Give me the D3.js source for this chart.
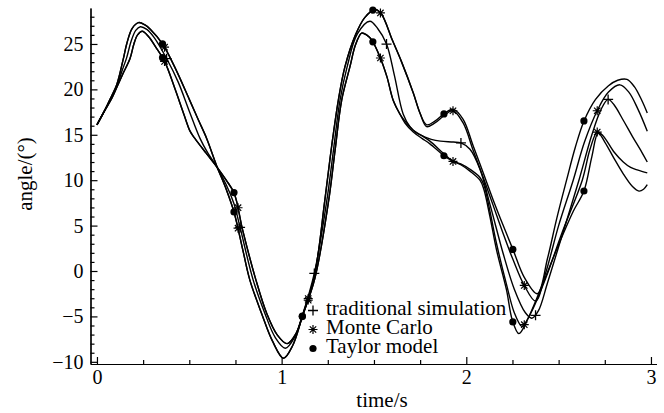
<!DOCTYPE html>
<html lang="en">
<head>
<meta charset="UTF-8" />
<title>angle vs time</title>
<script src="https://d3js.org/d3.v7.min.js"></script>
<style>
  body { margin: 0; background: #fff; }
  text { font-family: "Liberation Serif", "Times New Roman", serif; }
</style>
</head>
<body>
<svg id="chart" width="664" height="413"></svg>
<script>
// [time (s), angle (deg)]
var upperEarly = [[0,16.1],[0.04,17.6],[0.08,19.3],[0.107,20.5],[0.142,23.3],[0.161,25.0],[0.19,26.7],[0.225,27.35],[0.26,27.1],[0.29,26.6],[0.355,25.0],[0.42,22.5],[0.5,18.9],[0.55,16.6],[0.594,14.6],[0.648,11.6],[0.70,9.0],[0.742,6.5],[0.79,2.3],[0.828,-1.0],[0.892,-4.7],[0.95,-7.7],[1.01,-9.6],[1.06,-8.2],[1.112,-5.0],[1.177,-0.6],[1.234,7.8],[1.27,13.6],[1.307,18.8],[1.343,22.5],[1.4,26.0],[1.45,27.9],[1.505,28.8],[1.54,28.3],[1.6,25.4],[1.65,23.0],[1.713,19.6],[1.749,17.4]];
var lowerEarly = [[0,16.1],[0.04,17.6],[0.08,19.0],[0.107,20.2],[0.14,21.7],[0.179,23.4],[0.2,25.0],[0.22,26.0],[0.245,26.4],[0.28,25.8],[0.32,24.6],[0.368,23.0],[0.42,20.2],[0.47,17.3],[0.504,15.4],[0.53,14.6],[0.59,13.0],[0.648,11.5],[0.70,10.0],[0.743,8.56],[0.789,4.5],[0.861,-1.0],[0.919,-4.66],[0.975,-7.0],[1.03,-8.0],[1.08,-6.8],[1.112,-5.0],[1.18,-0.8],[1.255,7.8],[1.29,13.4],[1.325,18.8],[1.37,22.5],[1.40,24.9],[1.433,26.2],[1.46,26.0],[1.489,25.4],[1.532,23.6],[1.57,21.4],[1.604,18.8],[1.64,17.3]];

var taylorUpper = upperEarly.concat([[1.785,16.1],[1.83,16.5],[1.879,17.3],[1.93,17.8],[1.983,16.7],[2.037,13.8],[2.092,10.8],[2.146,7.8],[2.2,5.0],[2.254,2.3],[2.314,-0.7],[2.385,-2.5],[2.44,1.4],[2.49,5.8],[2.543,10.0],[2.59,13.6],[2.637,16.5],[2.7,18.9],[2.77,20.4],[2.82,21.0],[2.87,21.1],[2.91,20.3],[2.95,18.8],[2.98,17.4]]);
var monteUpper = upperEarly.concat([[1.785,15.9],[1.83,16.3],[1.879,17.1],[1.928,17.65],[1.983,16.3],[2.037,13.3],[2.092,10.3],[2.146,7.2],[2.2,4.1],[2.254,1.2],[2.314,-1.6],[2.375,-3.3],[2.43,-0.2],[2.5,5.0],[2.579,10.0],[2.64,14.2],[2.709,17.65],[2.77,19.7],[2.832,20.5],[2.88,19.7],[2.93,17.8],[2.98,15.4]]);
var traditional = [[0,16.1],[0.04,17.6],[0.08,19.2],[0.107,20.3],[0.135,22.0],[0.161,23.5],[0.185,25.3],[0.21,26.5],[0.235,26.9],[0.27,26.6],[0.31,25.7],[0.377,23.4],[0.44,20.8],[0.5,17.6],[0.558,14.6],[0.6,13.0],[0.648,11.5],[0.70,9.5],[0.742,7.4],[0.775,4.8],[0.846,-1.0],[0.91,-4.7],[0.965,-7.3],[1.02,-8.5],[1.07,-7.3],[1.112,-4.9],[1.177,-0.26],[1.245,7.8],[1.28,13.2],[1.316,18.8],[1.355,22.5],[1.41,26.1],[1.478,27.5],[1.52,26.7],[1.568,25.0],[1.61,21.6],[1.658,17.3],[1.695,15.9],[1.731,15.2],[1.77,14.8],[1.81,14.5],[1.86,14.3],[1.93,14.2],[1.971,14.1],[2.02,13.4],[2.074,11.2],[2.13,7.2],[2.2,1.9],[2.26,-2.0],[2.32,-4.6],[2.355,-5.2],[2.39,-4.4],[2.44,-1.3],[2.52,4.0],[2.61,10.0],[2.68,15.0],[2.73,17.8],[2.768,18.9],[2.8,18.3],[2.85,16.6],[2.9,14.8],[2.95,13.1],[2.98,12.0]];
var monteLower = lowerEarly.concat([[1.668,16.5],[1.713,15.5],[1.76,14.9],[1.803,14.3],[1.879,12.9],[1.926,12.1],[1.97,11.8],[2.02,11.2],[2.074,10.3],[2.095,9.5],[2.128,6.6],[2.164,3.0],[2.218,-1.5],[2.26,-4.6],[2.30,-6.1],[2.314,-5.9],[2.36,-4.2],[2.43,-0.8],[2.52,4.3],[2.628,10.0],[2.67,13.4],[2.709,15.3],[2.74,14.9],[2.8,13.1],[2.85,12.0],[2.89,11.4],[2.93,11.1],[2.98,10.8]]);
var taylorLower = lowerEarly.concat([[1.668,16.3],[1.713,15.3],[1.76,14.6],[1.803,14.0],[1.879,12.7],[1.926,12.1],[1.97,11.7],[2.02,11.0],[2.074,10.0],[2.095,9.0],[2.128,6.0],[2.164,2.3],[2.218,-2.1],[2.249,-5.4],[2.285,-6.9],[2.33,-5.4],[2.4,-2.1],[2.5,2.9],[2.58,6.6],[2.637,8.8],[2.68,12.6],[2.714,15.2],[2.75,14.2],[2.8,12.4],[2.85,10.7],[2.9,9.3],[2.935,8.8],[2.96,9.0],[2.98,9.5]]);

// times where the markers sit on each curve
var taylorMarkT = [0.355, 0.742, 1.112, 1.494, 1.879, 2.252, 2.637];
var monteMarkT = [0.366, 0.764, 1.144, 1.535, 1.928, 2.314, 2.709];
var tradMarkT = [0.377, 0.775, 1.177, 1.568, 1.971, 2.375, 2.768];

var xTicks = [0, 1, 2, 3];
var yTicks = [-10, -5, 0, 5, 10, 15, 20, 25];
var legendNames = ["traditional simulation", "Monte Carlo", "Taylor model"];

var svg = d3.select("#chart");
var font = "'Liberation Serif', 'Times New Roman', serif";

var x = d3.scaleLinear().domain([-0.035, 3.03]).range([90.5, 656.5]);
var y = d3.scaleLinear().domain([-10.24, 28.96]).range([364, 8]);

// axes, ticks pointing inwards
function styleAxis(g) {
  g.attr("font-family", font).attr("font-size", 20);
  g.selectAll("path, line").attr("stroke", "#000").attr("stroke-width", 1.2);
}

svg.append("g").attr("transform", "translate(0,364)")
  .call(d3.axisBottom(x).tickValues(d3.range(0, 3.01, 0.25).filter(function(d){ return d % 1 != 0 }))
    .tickSizeInner(-4).tickSizeOuter(0).tickFormat(""))
  .call(styleAxis);
svg.append("g").attr("transform", "translate(0,364)")
  .call(d3.axisBottom(x).tickValues(xTicks).tickSizeInner(-7).tickSizeOuter(0).tickPadding(6).tickFormat(d3.format("d")))
  .call(styleAxis);

svg.append("g").attr("transform", "translate(90.5,0)")
  .call(d3.axisLeft(y).tickValues(d3.range(-10, 29).filter(function(d){ return d % 5 != 0 }))
    .tickSizeInner(-4).tickSizeOuter(0).tickFormat(""))
  .call(styleAxis);
svg.append("g").attr("transform", "translate(90.5,0)")
  .call(d3.axisLeft(y).tickValues(yTicks).tickSizeInner(-7).tickSizeOuter(0).tickPadding(7))
  .call(styleAxis);

svg.append("text")
  .attr("x", 382).attr("y", 407)
  .attr("text-anchor", "middle").attr("font-size", 21)
  .text("time/s");

svg.append("text")
  .attr("transform", "translate(32,174) rotate(-90)")
  .attr("text-anchor", "middle").attr("font-size", 21)
  .text("angle/(°)");

// curves
var line = d3.line()
  .x(function(d){ return x(d[0]) })
  .y(function(d){ return y(d[1]) })
  .curve(d3.curveCatmullRom.alpha(0.5));

var series = [
  {data: taylorUpper, kind: "dot", times: taylorMarkT},
  {data: monteUpper, kind: "star", times: monteMarkT},
  {data: traditional, kind: "plus", times: tradMarkT},
  {data: monteLower, kind: "star", times: monteMarkT},
  {data: taylorLower, kind: "dot", times: taylorMarkT}
];

function drawMarker(g, kind, cx, cy) {
  if (kind == "dot") {
    g.append("circle").attr("cx", cx).attr("cy", cy).attr("r", 3.6).attr("fill", "#000");
  } else if (kind == "plus") {
    g.append("path").attr("d", "M" + (cx - 5) + "," + cy + "h10M" + cx + "," + (cy - 5) + "v10")
      .attr("stroke", "#000").attr("stroke-width", 1.3).attr("fill", "none");
  } else {
    var d = "";
    [0, 45, 90, 135].forEach(function(a){
      var r = 4.5, dx = r * Math.cos(a * Math.PI / 180), dy = r * Math.sin(a * Math.PI / 180);
      d += "M" + (cx - dx) + "," + (cy - dy) + "L" + (cx + dx) + "," + (cy + dy);
    });
    g.append("path").attr("d", d).attr("stroke", "#000").attr("stroke-width", 1.2).attr("fill", "none");
  }
}

var curves = svg.append("g");
var marks = svg.append("g");

series.forEach(function(s){
  var path = curves.append("path")
    .attr("d", line(s.data))
    .attr("fill", "none")
    .attr("stroke", "#000")
    .attr("stroke-width", 1.4);

  // find the curve's y at each marker time
  var node = path.node(), len = node.getTotalLength(), pts = [];
  for (var i = 0; i <= 3000; i++) pts.push(node.getPointAtLength(len * i / 3000));
  s.times.forEach(function(t){
    var px = x(t), best = pts[0];
    pts.forEach(function(p){ if (Math.abs(p.x - px) < Math.abs(best.x - px)) best = p; });
    drawMarker(marks, s.kind, px, best.y);
  });
});

// legend
var legend = svg.append("g");
var legendKinds = ["plus", "star", "dot"];
legendNames.forEach(function(name, i){
  var by = 315 + i * 19;
  drawMarker(legend, legendKinds[i], 313, by - 4.5);
  legend.append("text").attr("x", 326).attr("y", by).attr("font-size", 21).text(name);
});
</script>
</body>
</html>
